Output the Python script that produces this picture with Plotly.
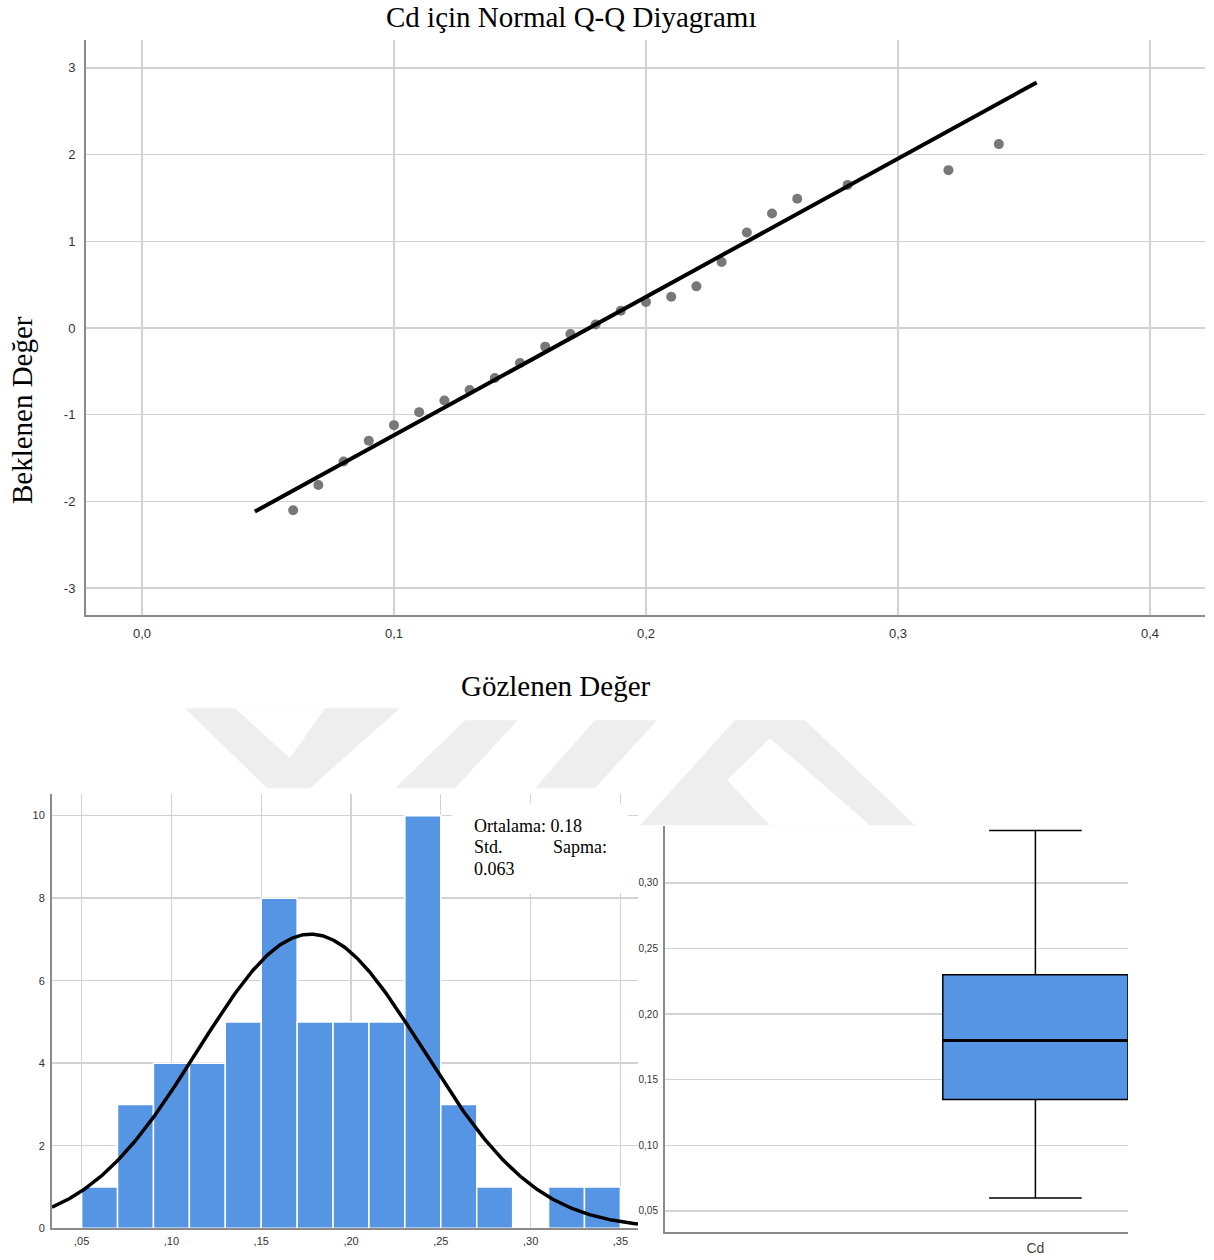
import numpy as np
import plotly.graph_objects as go

W, H = 1214, 1260

# ---------------- data ----------------
# Normal Q-Q plot (observed value vs expected normal value)
qq_observed = [0.06, 0.07, 0.08, 0.09, 0.10, 0.11, 0.12, 0.13, 0.14, 0.15, 0.16, 0.17,
               0.18, 0.19, 0.20, 0.21, 0.22, 0.23, 0.24, 0.25, 0.26, 0.28, 0.32, 0.34]
qq_expected = [-2.10, -1.81, -1.54, -1.30, -1.12, -0.97, -0.835, -0.715, -0.577, -0.404, -0.215, -0.07,
               0.04, 0.20, 0.30, 0.36, 0.48, 0.76, 1.10, 1.32, 1.49, 1.65, 1.82, 2.12]
qq_line_x = [0.0448, 0.355]
fit_mean = 0.1775
fit_sd = 0.0627
qq_x_ticks = [0.0, 0.1, 0.2, 0.3, 0.4]
qq_x_ticklabels = ["0,0", "0,1", "0,2", "0,3", "0,4"]
qq_y_ticks = [-3, -2, -1, 0, 1, 2, 3]
qq_y_ticklabels = ["-3", "-2", "-1", "0", "1", "2", "3"]

# Histogram
hist_bin_start = [0.05, 0.07, 0.09, 0.11, 0.13, 0.15, 0.17, 0.19, 0.21, 0.23, 0.25, 0.27, 0.29, 0.31, 0.33]
hist_counts = [1, 3, 4, 4, 5, 8, 5, 5, 5, 10, 3, 1, 0, 1, 1]
hist_bin_width = 0.02
hist_x_ticks = [0.05, 0.10, 0.15, 0.20, 0.25, 0.30, 0.35]
hist_x_ticklabels = [",05", ",10", ",15", ",20", ",25", ",30", ",35"]
hist_y_ticks = [0, 2, 4, 6, 8, 10]
hist_y_ticklabels = ["0", "2", "4", "6", "8", "10"]
stat_mean_text = "0.18"
stat_sd_text = "0.063"

# Box plot
box_category = "Cd"
box_min = 0.06
box_q1 = 0.135
box_median = 0.18
box_q3 = 0.23
box_max = 0.34
box_y_ticks = [0.05, 0.10, 0.15, 0.20, 0.25, 0.30]
box_y_ticklabels = ["0,05", "0,10", "0,15", "0,20", "0,25", "0,30"]

# ---------------- helpers ----------------
YF = 1.005  # small vertical calibration of the page

def px(x):
    return x / W

def py(y):
    return 1 - (y * YF) / H

BLUE = "#5694e4"
GRID = "#d2d2d2"
AXLINE = "#8a8a8a"
SANS = "Liberation Sans, Arial, sans-serif"
SERIF = "Liberation Serif, Times New Roman, serif"

fig = go.Figure()

# Q-Q points and line
fig.add_trace(go.Scatter(x=qq_observed, y=qq_expected, mode="markers",
                         marker=dict(size=10, color="#787878"),
                         xaxis="x", yaxis="y", showlegend=False, hoverinfo="skip"))
qq_line_y = [(v - fit_mean) / fit_sd for v in qq_line_x]
fig.add_trace(go.Scatter(x=qq_line_x, y=qq_line_y, mode="lines",
                         line=dict(color="black", width=4),
                         xaxis="x", yaxis="y", showlegend=False, hoverinfo="skip"))

# Histogram
n_total = sum(hist_counts)
hist_centers = [s + hist_bin_width / 2 for s in hist_bin_start]
fig.add_trace(go.Bar(x=hist_centers, y=hist_counts, width=hist_bin_width,
                     marker=dict(color=BLUE, line=dict(color="white", width=1.5)),
                     xaxis="x2", yaxis="y2", showlegend=False, hoverinfo="skip"))
hx_range = [0.0335, 0.3598]
cx = np.linspace(hx_range[0], hx_range[1], 400)
cy = n_total * hist_bin_width * np.exp(-0.5 * ((cx - fit_mean) / fit_sd) ** 2) / (fit_sd * np.sqrt(2 * np.pi))
fig.add_trace(go.Scatter(x=cx, y=cy, mode="lines", line=dict(color="black", width=3.5),
                         xaxis="x2", yaxis="y2", showlegend=False, hoverinfo="skip"))

# Box plot
box_width = 1.0
fig.add_trace(go.Box(x=[0], q1=[box_q1], median=[box_median], q3=[box_q3],
                     lowerfence=[box_min], upperfence=[box_max],
                     width=box_width, whiskerwidth=0.5, fillcolor=BLUE,
                     line=dict(color="black", width=1.5), boxpoints=False,
                     xaxis="x3", yaxis="y3", showlegend=False, hoverinfo="skip"))
fig.add_trace(go.Scatter(x=[-box_width / 2, box_width / 2], y=[box_median, box_median], mode="lines",
                         line=dict(color="black", width=3),
                         xaxis="x3", yaxis="y3", showlegend=False, hoverinfo="skip"))

common = dict(showline=True, linecolor=AXLINE, linewidth=2, zeroline=False,
              ticks="outside", tickcolor="rgba(0,0,0,0)", fixedrange=True)

fig.update_layout(
    width=W, height=H,
    margin=dict(l=0, r=0, t=0, b=0),
    paper_bgcolor="white", plot_bgcolor="white",
    xaxis=dict(domain=[px(86), px(1205)], range=[-0.0222, 0.4218], anchor="y",
               tickvals=qq_x_ticks, ticktext=qq_x_ticklabels, ticklen=5,
               showgrid=True, gridcolor=GRID, gridwidth=1.5,
               tickfont=dict(family=SANS, size=13, color="#333333"), **common),
    yaxis=dict(domain=[py(615), py(40)], range=[-3.31, 3.32], anchor="x",
               tickvals=qq_y_ticks, ticktext=qq_y_ticklabels, ticklen=6,
               showgrid=True, gridcolor=GRID, gridwidth=1.5,
               tickfont=dict(family=SANS, size=13, color="#333333"), **common),
    xaxis2=dict(domain=[px(52), px(638)], range=hx_range, anchor="y2",
                tickvals=hist_x_ticks, ticktext=hist_x_ticklabels, ticklen=2,
                showgrid=True, gridcolor=GRID, gridwidth=1.2,
                tickfont=dict(family=SANS, size=11, color="#333333"), **common),
    yaxis2=dict(domain=[py(1228), py(794)], range=[0, 10.52], anchor="x2",
                tickvals=hist_y_ticks, ticktext=hist_y_ticklabels, ticklen=3,
                showgrid=True, gridcolor=GRID, gridwidth=1.5,
                tickfont=dict(family=SANS, size=11, color="#333333"), **common),
    xaxis3=dict(domain=[px(665), px(1128)], range=[-2.0, 0.5], anchor="y3",
                tickvals=[0], ticktext=[box_category], ticklen=2,
                showgrid=False,
                tickfont=dict(family=SANS, size=14, color="#444444"), **common),
    yaxis3=dict(domain=[py(1232), py(826)], range=[0.0338, 0.3432], anchor="x3",
                tickvals=box_y_ticks, ticktext=box_y_ticklabels, ticklen=3,
                showgrid=True, gridcolor=GRID, gridwidth=1.5,
                tickfont=dict(family=SANS, size=10, color="#333333"), **common),
)

# ---------------- decorative watermark ----------------
def path(points):
    s = "M " + " L ".join(f"{px(x):.5f},{py(y):.5f}" for x, y in points) + " Z"
    return s

WM = "#eeeeee"
wm_gray = [
    [(185, 708), (400, 708), (310, 788), (267, 788)],
    [(465, 720), (518, 720), (455, 788), (395, 788)],
    [(595, 720), (657, 720), (595, 788), (535, 788)],
    [(735, 720), (805, 720), (915, 825), (640, 825)],
]
wm_white = [
    [(235, 708), (325, 708), (290, 758)],
    [(770, 738), (870, 825), (770, 825), (727, 780)],
]
shapes = []
for poly in wm_gray:
    shapes.append(dict(type="path", path=path(poly), xref="paper", yref="paper",
                       fillcolor=WM, line=dict(width=0), layer="below"))
for poly in wm_white:
    shapes.append(dict(type="path", path=path(poly), xref="paper", yref="paper",
                       fillcolor="white", line=dict(width=0), layer="below"))
# stats box background
shapes.append(dict(type="rect", xref="paper", yref="paper",
                   x0=px(452), x1=px(628), y0=py(893), y1=py(803),
                   fillcolor="white", line=dict(width=0), layer="above"))

annotations = [
    dict(text="Cd için Normal Q-Q Diyagramı", x=px(571), y=py(17), xref="paper", yref="paper",
         xanchor="center", yanchor="middle", showarrow=False,
         font=dict(family=SERIF, size=29, color="black")),
    dict(text="Beklenen Değer", x=px(22), y=py(410), xref="paper", yref="paper",
         xanchor="center", yanchor="middle", showarrow=False, textangle=-90,
         font=dict(family=SERIF, size=29, color="black")),
    dict(text="Gözlenen Değer", x=px(556), y=py(686), xref="paper", yref="paper",
         xanchor="center", yanchor="middle", showarrow=False,
         font=dict(family=SERIF, size=29, color="black")),
    dict(text="Ortalama: " + stat_mean_text, x=px(472), y=py(826), xref="paper", yref="paper",
         xanchor="left", yanchor="middle", showarrow=False,
         font=dict(family=SERIF, size=18, color="black")),
    dict(text="Std.", x=px(472), y=py(847), xref="paper", yref="paper",
         xanchor="left", yanchor="middle", showarrow=False,
         font=dict(family=SERIF, size=18, color="black")),
    dict(text="Sapma:", x=px(609), y=py(847), xref="paper", yref="paper",
         xanchor="right", yanchor="middle", showarrow=False,
         font=dict(family=SERIF, size=18, color="black")),
    dict(text=stat_sd_text, x=px(472), y=py(869), xref="paper", yref="paper",
         xanchor="left", yanchor="middle", showarrow=False,
         font=dict(family=SERIF, size=18, color="black")),
]

fig.update_layout(shapes=shapes, annotations=annotations)
post = (
    "document.documentElement.style.margin='0';document.documentElement.style.padding='0';"
    "document.documentElement.style.overflow='hidden';"
    "document.body.style.margin='0';document.body.style.padding='0';"
    "document.body.style.overflow='hidden';"
)
fig.write_html("out.html", config={"displayModeBar": False, "staticPlot": True}, post_script=post)
